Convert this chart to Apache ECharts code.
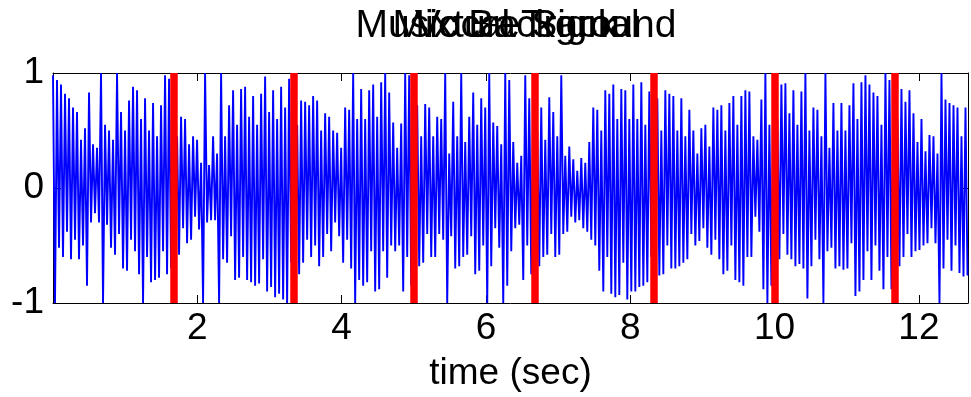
<!DOCTYPE html>
<html><head><meta charset="utf-8">
<script src="https://cdn.jsdelivr.net/npm/echarts@6/dist/echarts.min.js"></script>
<style>html,body{margin:0;padding:0;background:#fff}#c{width:971px;height:397px}</style>
</head><body><div id="c"></div><script>
const titles = ['Music Background', 'Vocal Track', 'Mixture Signal'];
const xLabel = 'time (sec)';
const yTicks = [-1, 0, 1];
const boundaries = [1.667, 3.333, 5.0, 6.667, 8.333, 10.0, 11.667];
const duration = 12.673;
const xMax = 12.68;
const signal = [
 0.98,-1.0,0.94,-0.52,0.9, -0.6,0.82,-0.38,0.78,-0.62, 0.7,-0.45,0.66,-0.62,0.42, -0.5,0.52,-0.85,0.83,-0.3,
 0.38,-0.22,0.35,-0.3,1.0, -1.0,0.55,-0.32,0.5,-0.52, 0.42,-0.58,1.0,-0.4,0.66, -0.7,0.5,-0.72,0.76,-0.45,
 0.88,-0.55,0.85,-0.75,0.6, -1.0,0.78,-0.6,0.5,-0.82, 0.74,-0.8,0.45,-0.78,0.72, -0.55,0.98,-0.75,0.95,-0.7,
 0.7,-0.6,0.45,-0.58,0.62, -0.35,0.6,-0.48,0.38,-0.45, 0.45,-0.25,0.42,-0.36,0.22, -1.0,1.0,-0.3,0.2,-0.28,
 0.45,-0.28,0.3,-1.0,1.0, -0.62,0.45,-0.65,0.72,-0.42, 0.85,-0.8,0.55,-0.78,0.86, -0.6,0.88,-0.8,0.62,-0.82,
 0.8,-0.85,0.55,-0.83,0.82, -0.62,0.97,-0.9,0.66,-0.86, 0.85,-0.95,0.6,-0.92,0.88, -0.97,0.7,-1.0,0.95,-0.65,
 0.8,-0.8,0.55,-0.75,0.76, -0.65,0.75,-0.45,0.72,-0.6, 0.8,-0.5,0.76,-0.68,0.5, -0.6,0.65,-0.4,0.62,-0.55,
 0.5,-0.3,0.48,-0.42,0.35, -0.65,0.7,-0.45,0.68,-0.7, 1.0,-1.0,0.6,-0.8,0.86, -0.85,0.6,-0.82,0.85,-0.55,
 0.9,-0.9,0.62,-0.88,0.92, -0.55,1.0,-0.78,0.83,-0.5, 0.57,-0.55,0.35,-0.5,0.56, -0.9,1.0,-0.6,0.98,-0.85,
 0.75,-0.5,0.72,-0.68,0.45, -0.65,0.73,-0.4,0.7,-0.6, 0.45,-0.6,0.62,-0.4,0.6, -0.45,1.0,-1.0,0.3,-0.42,
 0.75,-0.7,0.45,-0.68,1.0, -0.6,0.4,-0.58,0.62,-0.42, 0.83,-0.75,0.55,-0.72,0.78, -0.5,0.7,-1.0,1.0,-0.68,
 0.57,-0.35,0.54,-0.52,0.38, -1.0,1.0,-0.85,0.94,-0.55, 0.4,-0.35,0.22,-0.32,0.28, -0.8,0.98,-0.5,0.78,-0.75,
 0.75,-0.7,0.5,-0.68,0.7, -0.6,0.42,-0.58,0.79,-0.4, 0.66,-0.6,0.45,-0.58,0.98, -0.4,0.28,-0.38,0.36,-0.25,
 0.25,-0.3,0.15,-0.28,0.26, -0.35,0.22,-0.38,0.4,-0.45, 0.7,-0.5,0.68,-0.72,0.5, -0.9,0.85,-0.6,0.82,-0.92,
 0.9,-0.95,0.6,-0.93,0.86, -0.65,0.85,-0.97,0.6,-0.9, 0.9,-0.9,0.6,-0.86,0.92, -0.85,0.55,-0.82,0.84,-0.6,
 0.8,-0.55,0.78,-0.76,0.5, -0.75,0.85,-0.5,0.82,-0.7, 0.8,-0.7,0.5,-0.68,0.78, -0.65,0.45,-0.62,0.68,-0.4,
 0.5,-0.5,0.3,-0.46,0.52, -0.35,0.55,-0.52,0.36,-0.58, 0.7,-0.45,0.68,-0.62,0.72, -0.75,0.5,-0.72,0.74,-0.5,
 0.8,-0.8,0.55,-0.82,0.8, -0.85,0.85,-0.6,0.84,-0.6, 0.45,-0.25,0.42,-0.38,0.77, -0.88,1.0,-1.0,0.55,-0.85,
 0.9,-0.6,0.6,-0.62,0.9, -0.4,0.91,-0.58,0.65,-0.62, 0.85,-0.68,0.55,-0.66,0.84, -0.7,1.0,-0.96,0.5,-0.68,
 0.7,-0.45,0.68,-0.62,0.45, -1.0,1.0,-0.55,0.35,-0.52, 0.74,-0.7,0.5,-0.68,0.74, -0.71,0.5,-0.7,0.72,-0.48,
 0.91,-0.94,0.6,-0.9,0.92, -0.8,0.98,-0.55,0.9,-0.8, 0.83,-0.5,0.8,-0.72,0.55, -0.88,1.0,-0.6,0.94,-0.88,
 0.9,-0.7,0.6,-0.68,0.86, -0.6,0.75,-0.4,0.85,-0.6, 0.65,-0.55,0.4,-0.54,0.6, -0.5,0.32,-0.48,0.46,-0.35,
 0.45,-0.48,0.3,-1.0,1.0, -0.7,0.77,-0.45,0.74,-0.72, 0.72,-0.5,0.7,-0.74,0.45, -0.77,0.7,-0.76
];

const step = duration / (signal.length - 1);
const sigData = signal.map((v, i) => [i * step, v]);
const font = "'Liberation Sans', Arial, Helvetica, sans-serif";
const labelStyle = {fontSize: 37, fontWeight: 'normal', color: '#000', fontFamily: font};

const chart = echarts.init(document.getElementById('c'), null, {renderer: 'canvas'});
const axisCommon = {
  axisLine: {show: true, onZero: false, lineStyle: {color: '#000', width: 1}},
  axisTick: {show: true, inside: true, length: 8, lineStyle: {color: '#000', width: 1}},
  splitLine: {show: false}
};
chart.setOption({
  animation: false,
  backgroundColor: '#fff',
  title: titles.map(t => ({
    text: t, left: 511, top: 2, textAlign: 'center',
    textStyle: {fontSize: 39, fontWeight: 'normal', color: '#000', fontFamily: font}
  })),
  grid: {left: 53, right: 3, top: 73, bottom: 90, containLabel: false},
  xAxis: [
    Object.assign({}, axisCommon, {
      type: 'value', position: 'bottom', min: 0, max: xMax, interval: 2,
      name: xLabel, nameLocation: 'middle', nameGap: 52,
      nameTextStyle: Object.assign({}, labelStyle),
      axisLabel: Object.assign({show: true, margin: 7,
        showMinLabel: false, showMaxLabel: false,
        formatter: v => (v === 0 || v > 12.5) ? '' : String(v)}, labelStyle)
    }),
    Object.assign({}, axisCommon, {
      type: 'value', position: 'top', min: 0, max: xMax, interval: 2,
      axisLabel: {show: false}
    })
  ],
  yAxis: [
    Object.assign({}, axisCommon, {
      type: 'value', position: 'left', min: yTicks[0], max: yTicks[yTicks.length - 1], interval: 1,
      axisLabel: Object.assign({show: true, margin: 9}, labelStyle)
    }),
    Object.assign({}, axisCommon, {
      type: 'value', position: 'right', min: yTicks[0], max: yTicks[yTicks.length - 1], interval: 1,
      axisLabel: {show: false}
    })
  ],
  series: [
    {
      type: 'line', data: sigData, showSymbol: false, symbol: 'none', sampling: false,
      lineStyle: {color: '#0000ff', width: 1.9}, z: 2, silent: true, clip: true
    },
    {
      type: 'line', data: [], z: 3, silent: true,
      markLine: {
        silent: true, symbol: ['none', 'none'], animation: false,
        label: {show: false},
        lineStyle: {color: '#ff0000', width: 7.5, type: 'solid', opacity: 1},
        emphasis: {disabled: true},
        data: boundaries.map(b => ({xAxis: b}))
      }
    }
  ]
});
</script></body></html>
